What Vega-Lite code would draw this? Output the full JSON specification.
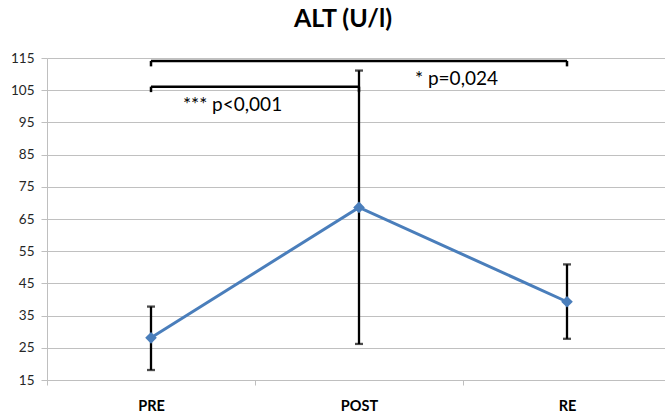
{
  "$schema": "https://vega.github.io/schema/vega-lite/v6.json",
  "autosize": {"type": "none"},
  "padding": {"left": 47, "top": 58, "right": 0, "bottom": 34},
  "width": 624,
  "height": 322,
  "background": "white",
  "title": {"text": "ALT (U/l)", "font": "Lato", "fontSize": 25, "fontWeight": "bold", "color": "#000000", "anchor": "middle", "frame": "group", "dx": -16, "offset": 19},
  "config": {
    "view": {"stroke": null},
    "axisX": {"title": null, "labelAngle": 0, "labelFont": "Lato", "labelFontSize": 14.5, "labelFontWeight": "bold", "labelColor": "#000000", "labelPadding": 14, "tickBand": "extent", "tickSize": 5, "tickColor": "#bfbfbf", "domainColor": "#bfbfbf", "grid": false},
    "axisY": {"title": null, "labelFont": "Lato", "labelFontSize": 13.5, "labelColor": "#262626", "labelPadding": 7, "tickSize": 6, "tickColor": "#bfbfbf", "domainColor": "#bfbfbf", "gridColor": "#c0c0c0", "grid": true, "labelOverlap": false}
  },
  "datasets": {
    "series": [
      {"time": "PRE", "mean": 28.1, "lo": 18.1, "hi": 37.8},
      {"time": "POST", "mean": 68.6, "lo": 26.2, "hi": 111.1},
      {"time": "RE", "mean": 39.3, "lo": 27.8, "hi": 50.9}
    ],
    "brackets": [
      {"time": "PRE", "to": "RE", "level": 114.1, "foot": 112.4},
      {"time": "PRE", "to": "POST", "level": 106.1, "foot": 104.4}
    ],
    "labels": [
      {"time": "PRE", "y": 100.4, "label": "*** p<0,001"},
      {"time": "POST", "y": 108.5, "label": "* p=0,024"}
    ]
  },
  "encoding": {
    "x": {"field": "time", "type": "nominal",
          "scale": {"domain": ["PRE", "POST", "RE"], "paddingInner": 0, "paddingOuter": 0}}
  },
  "layer": [
    {
      "data": {"name": "series"},
      "mark": {"type": "rule", "color": "#000000", "strokeWidth": 2.3},
      "encoding": {
        "y": {"field": "lo", "type": "quantitative",
              "scale": {"domain": [15, 115], "nice": false, "zero": false},
              "axis": {"values": [15, 25, 35, 45, 55, 65, 75, 85, 95, 105, 115]}},
        "y2": {"field": "hi"}
      }
    },
    {
      "data": {"name": "series"},
      "mark": {"type": "tick", "orient": "horizontal", "color": "#000000", "thickness": 2.3, "size": 8},
      "encoding": {
        "y": {"field": "hi", "type": "quantitative", "axis": {"values": [15, 25, 35, 45, 55, 65, 75, 85, 95, 105, 115]}}
      }
    },
    {
      "data": {"name": "series"},
      "mark": {"type": "tick", "orient": "horizontal", "color": "#000000", "thickness": 2.3, "size": 8},
      "encoding": {
        "y": {"field": "lo", "type": "quantitative", "axis": {"values": [15, 25, 35, 45, 55, 65, 75, 85, 95, 105, 115]}}
      }
    },
    {
      "data": {"name": "series"},
      "mark": {"type": "line", "color": "#4A7EBB", "strokeWidth": 3},
      "encoding": {
        "y": {"field": "mean", "type": "quantitative", "axis": {"values": [15, 25, 35, 45, 55, 65, 75, 85, 95, 105, 115]}}
      }
    },
    {
      "data": {"name": "series"},
      "mark": {"type": "point", "shape": "diamond", "filled": true, "color": "#4A7EBB", "size": 135, "opacity": 1},
      "encoding": {
        "y": {"field": "mean", "type": "quantitative", "axis": {"values": [15, 25, 35, 45, 55, 65, 75, 85, 95, 105, 115]}}
      }
    },
    {
      "data": {"name": "brackets"},
      "mark": {"type": "rule", "color": "#000000", "strokeWidth": 2.5},
      "encoding": {
        "x2": {"field": "to"},
        "y": {"field": "level", "type": "quantitative", "axis": {"values": [15, 25, 35, 45, 55, 65, 75, 85, 95, 105, 115]}}
      }
    },
    {
      "data": {"name": "brackets"},
      "mark": {"type": "rule", "color": "#000000", "strokeWidth": 2.5},
      "encoding": {
        "y": {"field": "level", "type": "quantitative", "axis": {"values": [15, 25, 35, 45, 55, 65, 75, 85, 95, 105, 115]}},
        "y2": {"field": "foot"}
      }
    },
    {
      "data": {"name": "brackets"},
      "mark": {"type": "rule", "color": "#000000", "strokeWidth": 2.5},
      "encoding": {
        "x": {"field": "to", "type": "nominal", "scale": {"domain": ["PRE", "POST", "RE"], "paddingInner": 0, "paddingOuter": 0}},
        "y": {"field": "level", "type": "quantitative", "axis": {"values": [15, 25, 35, 45, 55, 65, 75, 85, 95, 105, 115]}},
        "y2": {"field": "foot"}
      }
    },
    {
      "data": {"name": "labels"},
      "transform": [{"filter": "datum.time === 'PRE'"}],
      "mark": {"type": "text", "align": "left", "baseline": "middle", "font": "Lato", "fontSize": 19, "color": "#000000", "dx": 32},
      "encoding": {
        "y": {"field": "y", "type": "quantitative", "axis": {"values": [15, 25, 35, 45, 55, 65, 75, 85, 95, 105, 115]}},
        "text": {"field": "label"}
      }
    },
    {
      "data": {"name": "labels"},
      "transform": [{"filter": "datum.time === 'POST'"}],
      "mark": {"type": "text", "align": "left", "baseline": "middle", "font": "Lato", "fontSize": 19, "color": "#000000", "dx": 56},
      "encoding": {
        "y": {"field": "y", "type": "quantitative", "axis": {"values": [15, 25, 35, 45, 55, 65, 75, 85, 95, 105, 115]}},
        "text": {"field": "label"}
      }
    }
  ]
}
